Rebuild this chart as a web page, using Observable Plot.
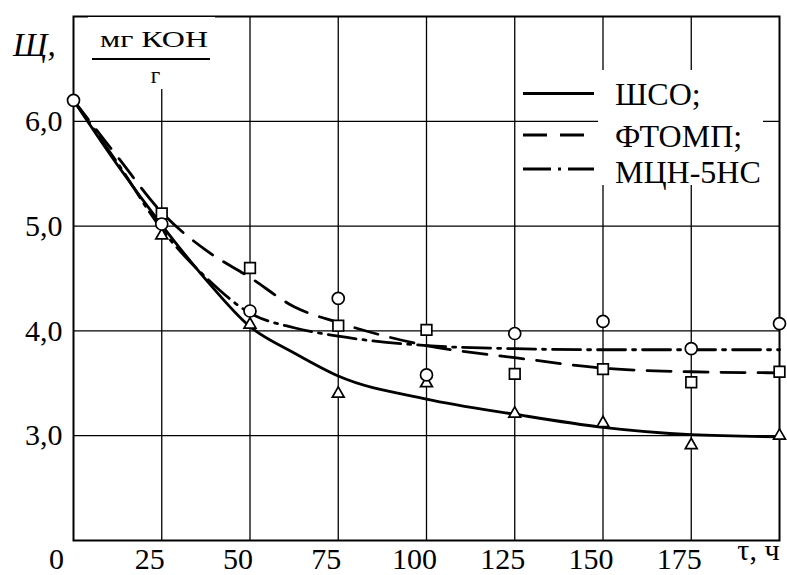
<!DOCTYPE html>
<html><head><meta charset="utf-8">
<script src="https://cdn.jsdelivr.net/npm/d3@7"></script>
<script src="https://cdn.jsdelivr.net/npm/@observablehq/plot@0.6"></script>
<style>
body{margin:0;background:#fff;}
#chart{position:relative;width:787px;height:575px;}
</style></head><body><div id="chart"></div>
<script>
const seriesNames = ["ШСО;", "ФТОМП;", "МЦН-5НС"];
const curveX = [0, 12.5, 25, 37.5, 50, 62.5, 75, 100, 125, 150, 175, 200];
const curveShso = [6.2, 5.58, 5.01, 4.49, 4.04, 3.79, 3.57, 3.35, 3.205, 3.08, 3.01, 2.99];
const curveFtomp = [6.2, 5.66, 5.13, 4.77, 4.51, 4.23, 4.08, 3.86, 3.745, 3.645, 3.61, 3.60];
const curveMcn = [6.2, 5.6, 4.97, 4.51, 4.17, 4.03, 3.95, 3.86, 3.83, 3.82, 3.82, 3.82];
const pointX = [0, 25, 50, 75, 100, 125, 150, 175, 200];
const circleVals = [6.2, 5.02, 4.19, 4.31, 3.58, 3.975, 4.09, 3.83, 4.07];
const squareVals = [null, 5.12, 4.60, 4.05, 4.01, 3.59, 3.635, 3.51, 3.61];
const triangleVals = [null, 4.91, 4.06, 3.40, 3.50, 3.21, 3.12, 2.91, 3.00];
const xTickLabels = [0, 25, 50, 75, 100, 125, 150, 175];
const xGrid = [25, 50, 75, 100, 125, 150, 175];
const yTicks = [3, 4, 5, 6];
const xLabel = "τ, ч";
const yLabel = "Щ,";
const unitTop = "мг КОН";
const unitBottom = "г";

const FONT = '"Liberation Serif", "DejaVu Serif", serif';
const dashes = [null, "24,13", "28,7,3,7"];
const curves = [curveShso, curveFtomp, curveMcn];
const lineData = curves.flatMap((vals, s) => curveX.map((x, i) => ({x, y: vals[i], s})));
const pts = (vals) => pointX.map((x, i) => ({x, y: vals[i]})).filter(d => d.y != null);

const plot = Plot.plot({
  width: 787, height: 575,
  marginLeft: 73, marginRight: 8, marginTop: 16, marginBottom: 35,
  x: {domain: [0, 200], axis: null},
  y: {domain: [2, 7], axis: null},
  style: {fontFamily: FONT, fontSize: "30px", color: "#000", background: "#fff"},
  marks: [
    Plot.ruleX(xGrid, {stroke: "#000", strokeWidth: 1.3}),
    Plot.ruleY(yTicks, {stroke: "#000", strokeWidth: 1.3}),
    Plot.frame({stroke: "#000", strokeWidth: 2}),
    ...curves.map((_, s) => Plot.line(lineData.filter(d => d.s === s), {
      x: "x", y: "y", curve: "monotone-x", stroke: "#000", strokeWidth: 2.8,
      strokeDasharray: dashes[s] ?? undefined
    })),
    Plot.dot(pts(triangleVals), {x: "x", y: "y", symbol: "triangle", r: 4.4, fill: "#fff", stroke: "#000", strokeWidth: 1.7}),
    Plot.dot(pts(squareVals), {x: "x", y: "y", symbol: "square", r: 6.0, fill: "#fff", stroke: "#000", strokeWidth: 1.7}),
    Plot.dot(pts(circleVals), {x: "x", y: "y", symbol: "circle", r: 6, fill: "#fff", stroke: "#000", strokeWidth: 1.7}),
    Plot.text(yTicks, {y: d => d, text: d => d.toFixed(1).replace(".", ","), frameAnchor: "left", dx: -11, textAnchor: "end", fontSize: 30, lineAnchor: "middle"}),
    Plot.text(xTickLabels.filter(d => d !== 0), {x: d => d, text: d => String(d), frameAnchor: "bottom", dy: 19, dx: -12, fontSize: 30, lineAnchor: "middle"}),
    Plot.text(xTickLabels.filter(d => d === 0), {x: d => d, text: d => String(d), frameAnchor: "bottom", dy: 19, dx: -17, fontSize: 30, lineAnchor: "middle"}),
    Plot.text([xLabel], {text: d => d, frameAnchor: "bottom-right", dy: 10, textAnchor: "end", fontSize: 30, lineAnchor: "middle"})
  ]
});
document.getElementById("chart").appendChild(plot);

const svg = d3.select(plot);
const g = svg.append("g").attr("text-anchor", "start").attr("font-family", FONT);
// unit label box
g.append("rect").attr("x", 88).attr("y", 17).attr("width", 127).attr("height", 72).attr("fill", "#fff");
g.append("text").attr("x", 13).attr("y", 56).attr("font-style", "italic").attr("font-size", 33).text(yLabel);
g.append("text").attr("x", 100).attr("y", 47).attr("font-size", 23)
  .attr("textLength", 108).attr("lengthAdjust", "spacingAndGlyphs").text(unitTop);
g.append("line").attr("x1", 92).attr("x2", 210).attr("y1", 59).attr("y2", 59).attr("stroke", "#000").attr("stroke-width", 2);
g.append("text").attr("x", 155.5).attr("y", 83).attr("text-anchor", "middle").attr("font-size", 23).text(unitBottom);

// legend
g.append("rect").attr("x", 598).attr("y", 70).attr("width", 165).attr("height", 115).attr("fill", "#fff");
const legY = [93.5, 135, 169];
const legBase = [105, 147, 183];
seriesNames.forEach((name, i) => {
  const ln = g.append("line").attr("x1", 523).attr("x2", i === 1 ? 590 : 594)
    .attr("y1", legY[i]).attr("y2", legY[i]).attr("stroke", "#000").attr("stroke-width", 2.8);
  if (dashes[i]) ln.attr("stroke-dasharray", dashes[i]);
  g.append("text").attr("x", 615).attr("y", legBase[i]).attr("font-size", 32).text(name);
});
</script></body></html>
